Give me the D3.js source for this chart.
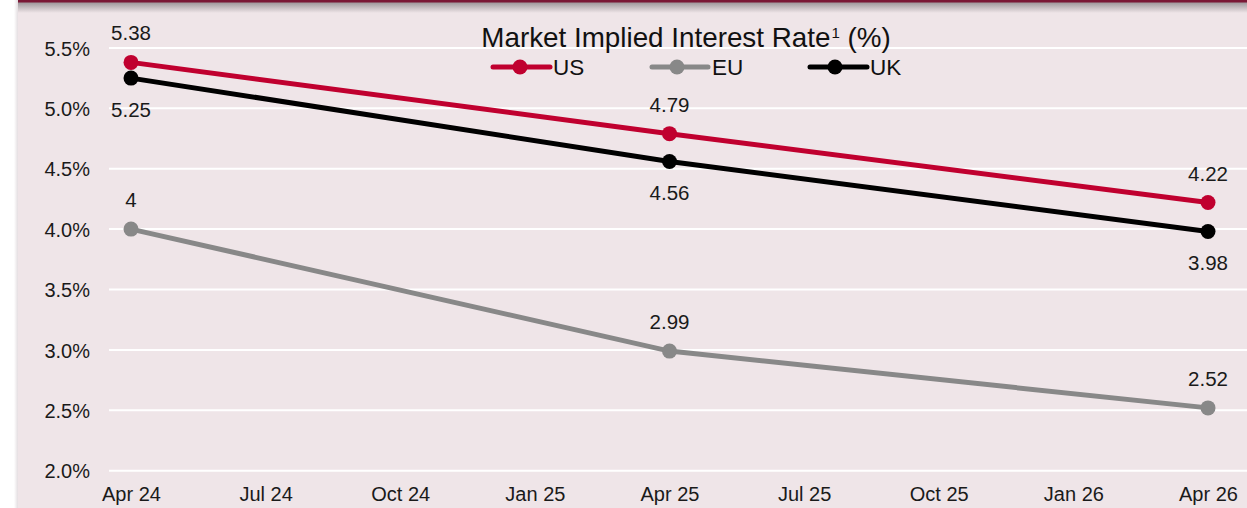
<!DOCTYPE html>
<html>
<head>
<meta charset="utf-8">
<script src="https://cdn.jsdelivr.net/npm/d3@7/dist/d3.min.js"></script>
<style>
  html, body { margin: 0; padding: 0; background: #ffffff; }
  svg { display: block; font-family: "Liberation Sans", Arial, sans-serif; }
</style>
</head>
<body>
<svg id="chart" width="1247" height="508"></svg>
<script>
const xLabels = ["Apr 24", "Jul 24", "Oct 24", "Jan 25", "Apr 25", "Jul 25", "Oct 25", "Jan 26", "Apr 26"];
const dates = ["Apr 24", "Apr 25", "Apr 26"];
const usValues = [5.38, 4.79, 4.22];
const euValues = [4.00, 2.99, 2.52];
const ukValues = [5.25, 4.56, 3.98];
const usLabels = ["5.38", "4.79", "4.22"];
const euLabels = ["4", "2.99", "2.52"];
const ukLabels = ["5.25", "4.56", "3.98"];
const yTicks = [2.0, 2.5, 3.0, 3.5, 4.0, 4.5, 5.0, 5.5];
const seriesNames = ["US", "EU", "UK"];
const title = "Market Implied Interest Rate";

const W = 1247, H = 508;
const svg = d3.select("#chart");
const defs = svg.append("defs");

const gTop = defs.append("linearGradient").attr("id", "shTop").attr("x1", 0).attr("x2", 0).attr("y1", 0).attr("y2", 1);
gTop.append("stop").attr("offset", "0%").attr("stop-color", "#9a9498");
gTop.append("stop").attr("offset", "100%").attr("stop-color", "#efe5e8");
const gLeft = defs.append("linearGradient").attr("id", "shLeft").attr("x1", 0).attr("x2", 1).attr("y1", 0).attr("y2", 0);
gLeft.append("stop").attr("offset", "0%").attr("stop-color", "#ffffff");
gLeft.append("stop").attr("offset", "100%").attr("stop-color", "#e4dee1");

const panelX = 18;
svg.append("rect").attr("x", 14).attr("y", 0).attr("width", panelX - 14).attr("height", H).attr("fill", "url(#shLeft)");
svg.append("rect").attr("x", panelX).attr("y", 0).attr("width", W - panelX).attr("height", H).attr("fill", "#efe5e8");
svg.append("rect").attr("x", panelX).attr("y", 2).attr("width", W - panelX).attr("height", 11).attr("fill", "url(#shTop)");
svg.append("rect").attr("x", panelX).attr("y", 0).attr("width", W - panelX).attr("height", 2.5).attr("fill", "#7a1836");

const x = d3.scalePoint().domain(xLabels).range([131, 1208]);
const y = d3.scaleLinear().domain([2.0, 5.5]).range([470.7, 47.9]);

svg.append("g").selectAll("line").data(yTicks).join("line")
  .attr("x1", 109).attr("x2", W)
  .attr("y1", d => y(d)).attr("y2", d => y(d))
  .attr("stroke", "#ffffff").attr("stroke-width", 2);

const yAxis = d3.axisLeft(y).tickValues(yTicks).tickSize(0).tickPadding(0).tickFormat(d => d.toFixed(1) + "%");
const yg = svg.append("g").attr("transform", "translate(90,0)").call(yAxis);
yg.select(".domain").remove();
yg.selectAll("text").attr("font-size", 20).attr("fill", "#1a1a1a").attr("font-family", "Liberation Sans, Arial, sans-serif").attr("dy", "0.36em");

const xAxis = d3.axisBottom(x).tickSize(0).tickPadding(0);
const xg = svg.append("g").attr("transform", "translate(0,487)").call(xAxis);
xg.select(".domain").remove();
xg.selectAll("text").attr("font-size", 20).attr("fill", "#1a1a1a").attr("font-family", "Liberation Sans, Arial, sans-serif").attr("dy", "0.72em");

const series = [
  { name: "US", values: usValues, labels: usLabels, color: "#c0002f", dy: -22 },
  { name: "EU", values: euValues, labels: euLabels, color: "#888888", dy: -22 },
  { name: "UK", values: ukValues, labels: ukLabels, color: "#000000", dy: 38.5 }
];

const line = d3.line().x(d => x(d.date)).y(d => y(d.v));

[series[1], series[2], series[0]].forEach(s => {
  const pts = dates.map((dt, i) => ({ date: dt, v: s.values[i], label: s.labels[i] }));
  const g = svg.append("g");
  g.append("path").datum(pts).attr("d", line).attr("fill", "none")
    .attr("stroke", s.color).attr("stroke-width", 5);
  g.selectAll("circle").data(pts).join("circle")
    .attr("cx", d => x(d.date)).attr("cy", d => y(d.v)).attr("r", 7.5).attr("fill", s.color);
  g.selectAll("text").data(pts).join("text")
    .attr("x", d => x(d.date)).attr("y", d => y(d.v) + s.dy)
    .attr("text-anchor", "middle").attr("font-size", 20.5).attr("fill", "#1a1a1a")
    .text(d => d.label);
});

const t = svg.append("text").attr("x", 686).attr("y", 46.5).attr("text-anchor", "middle")
  .attr("font-size", 27.8).attr("fill", "#111111");
t.append("tspan").text(title);
t.append("tspan").attr("font-size", 15).attr("dy", -9).attr("dx", 1).text("1");
t.append("tspan").attr("dy", 9).text(" (%)");

const legendPos = [{ x1: 493, x2: 550, cx: 520, tx: 553 }, { x1: 652, x2: 708, cx: 677, tx: 712 }, { x1: 810, x2: 867, cx: 835, tx: 870 }];
const lg = svg.append("g");
series.forEach((s, i) => {
  const p = legendPos[i];
  lg.append("line").attr("x1", p.x1).attr("x2", p.x2).attr("y1", 67).attr("y2", 67)
    .attr("stroke", s.color).attr("stroke-width", 5).attr("stroke-linecap", "round");
  lg.append("circle").attr("cx", p.cx).attr("cy", 67).attr("r", 7.5).attr("fill", s.color);
  lg.append("text").attr("x", p.tx).attr("y", 74.5).attr("font-size", 22.5).attr("fill", "#111111").text(s.name);
});
</script>
</body>
</html>
